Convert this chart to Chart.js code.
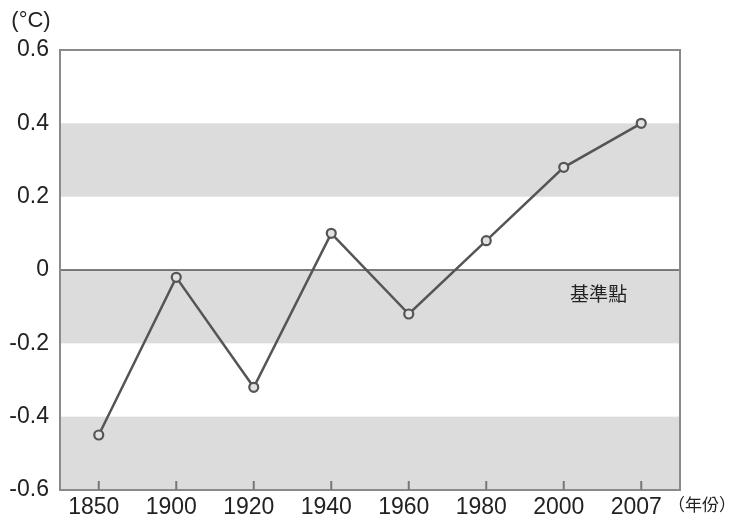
<!DOCTYPE html>
<html>
<head>
<meta charset="utf-8">
<script src="https://cdn.jsdelivr.net/npm/chart.js@4/dist/chart.umd.min.js"></script>
<style>
  html, body { margin: 0; padding: 0; background: #fff; }
  #wrap { width: 732px; height: 518px; }
</style>
</head>
<body>
<div id="wrap"><canvas id="tempChart"></canvas></div>
<script>
var years = ["1850", "1900", "1920", "1940", "1960", "1980", "2000", "2007"];
var anomaly = [-0.45, -0.02, -0.32, 0.10, -0.12, 0.08, 0.28, 0.40];
var grayBands = [[0.2, 0.4], [-0.2, 0], [-0.6, -0.4]];
var yMin = -0.6, yMax = 0.6, yStep = 0.2;
var baseLabel = "基準點";
var unitY = "(°C)";
var unitX = "（年份）";

var FONT = "'Liberation Sans', Arial, sans-serif";
var CJK = "'Noto Sans CJK TC', 'Noto Sans CJK SC', sans-serif";

// bands, frame, ticks and loose texts
var decor = {
    id: "decor",
    beforeDatasetsDraw: function(chart){
        var ctx = chart.ctx, a = chart.chartArea;
        var x = chart.scales.x, y = chart.scales.y;
        ctx.save();
        ctx.fillStyle = "#dcdcdc";
        grayBands.forEach(function(b){
            var t = y.getPixelForValue(b[1]), btm = y.getPixelForValue(b[0]);
            ctx.fillRect(a.left, t, a.right - a.left, btm - t);
        });
        // zero line
        ctx.strokeStyle = "#555";
        ctx.lineWidth = 1.5;
        var z = y.getPixelForValue(0);
        ctx.beginPath(); ctx.moveTo(a.left, z); ctx.lineTo(a.right, z); ctx.stroke();
        // frame
        ctx.strokeStyle = "#8a8a8a";
        ctx.lineWidth = 2;
        ctx.strokeRect(a.left, a.top, a.right - a.left, a.bottom - a.top);
        // inward ticks
        ctx.strokeStyle = "#777";
        ctx.lineWidth = 2;
        for(var i = 0; i < years.length; i++){
            var px = x.getPixelForValue(i);
            ctx.beginPath(); ctx.moveTo(px, a.bottom); ctx.lineTo(px, a.bottom - 9); ctx.stroke();
        }
        // text
        ctx.fillStyle = "#222";
        ctx.font = "19px " + CJK;
        ctx.textAlign = "center";
        ctx.textBaseline = "middle";
        ctx.fillText(baseLabel, x.getPixelForValue(6.45), y.getPixelForValue(-0.065));
        ctx.font = "22px " + FONT;
        ctx.fillText(unitY, 31, 21);
        ctx.font = "17px " + CJK;
        ctx.textAlign = "left";
        ctx.fillText(unitX, 668, 505);
        ctx.restore();
    }
};

new Chart(document.getElementById("tempChart"), {
    type: "line",
    data: {
        labels: years,
        datasets: [{
            data: anomaly,
            borderColor: "#555",
            borderWidth: 2.5,
            pointRadius: 4.5,
            pointBorderWidth: 2.2,
            pointBackgroundColor: "#e2e2e2",
            pointBorderColor: "#555",
            tension: 0
        }]
    },
    options: {
        responsive: true,
        maintainAspectRatio: false,
        animation: false,
        layout: { padding: { top: 50, right: 52, left: 0, bottom: 0 } },
        plugins: { legend: { display: false }, tooltip: { enabled: false } },
        scales: {
            x: {
                offset: true,
                grid: { display: false, drawTicks: false },
                border: { display: false },
                ticks: { color: "#222", font: { family: FONT, size: 23 }, padding: 4, labelOffset: -5, maxRotation: 0 },
                afterFit: function(s){ s.height = 28; }
            },
            y: {
                min: yMin,
                max: yMax,
                grid: { display: false, drawTicks: false },
                border: { display: false },
                ticks: {
                    stepSize: yStep,
                    color: "#222",
                    padding: 11,
                    font: { family: FONT, size: 23 },
                    callback: function(v){ return Math.abs(v) < 1e-9 ? "0" : (Math.round(v * 10) / 10).toString(); }
                },
                afterFit: function(s){ s.width = 60; }
            }
        }
    },
    plugins: [decor]
});
</script>
</body>
</html>
